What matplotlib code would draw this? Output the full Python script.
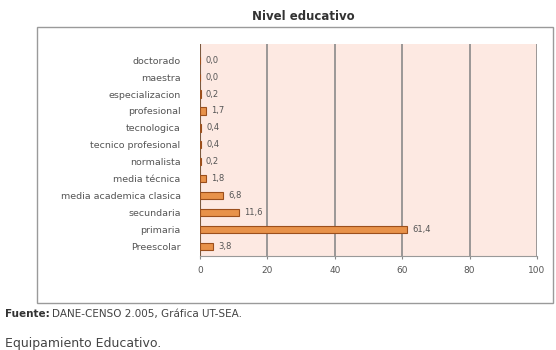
import matplotlib.pyplot as plt
from matplotlib.patches import Rectangle

categorias = ['doctorado', 'maestra', 'especializacion', 'profesional', 'tecnologica',
              'tecnico profesional', 'normalista', 'media técnica', 'media academica clasica',
              'secundaria', 'primaria', 'Preescolar']
valores = [0.0, 0.0, 0.2, 1.7, 0.4, 0.4, 0.2, 1.8, 6.8, 11.6, 61.4, 3.8]
ticks_x = [0, 20, 40, 60, 80, 100]

fig = plt.figure(figsize=(5.56, 3.5), dpi=100)
fig.patch.set_facecolor('white')

# outer chart frame
fig.patches.append(Rectangle((37/556, 1-303/350), 0.995-37/556, (303-27)/350,
                             transform=fig.transFigure, fill=False,
                             edgecolor='#9a9a9a', linewidth=1.0))

ax = fig.add_axes([200/556, 1-256/350, (537-200)/556, (256-44)/350])
ax.set_facecolor('#fde9e2')

pos = list(range(len(categorias)))
ax.barh(pos, valores, height=0.42, color='#e8924a', edgecolor='#9c4f1c', linewidth=0.8, zorder=3)
for p, v in zip(pos, valores):
    ax.text(v + 1.5, p, f'{v:.1f}'.replace('.', ','), va='center', ha='left',
            fontsize=6, color='#555555', zorder=4)

ax.set_xlim(0, 100)
ax.set_ylim(11.55, -0.95)
ax.set_yticks(pos)
ax.set_yticklabels(categorias, fontsize=6.8, color='#555555')
ax.set_xticks(ticks_x)
ax.set_xticklabels([str(t) for t in ticks_x], fontsize=6.5, color='#555555')
ax.tick_params(axis='y', length=0, pad=14)
ax.tick_params(axis='x', length=2, color='#888888', pad=5)
for t in ticks_x[1:]:
    ax.axvline(t, color='#8a8a8a', linewidth=1.2, zorder=1)
for s in ['top', 'right', 'left']:
    ax.spines[s].set_visible(False)
ax.spines['bottom'].set_color('#999999')
ax.plot([0, 0], [11.55, -0.95], color='#7a5a40', linewidth=1.5, zorder=2)

fig.text(0.545, 1-17/350, 'Nivel educativo', ha='center', va='center',
         fontsize=8.5, fontweight='bold', color='#333333')
fig.text(5/556, 1-314/350, 'Fuente:', ha='left', va='center', fontsize=7.5,
         fontweight='bold', color='#333333')
fig.text(52/556, 1-314/350, 'DANE-CENSO 2.005, Gráfica UT-SEA.', ha='left', va='center',
         fontsize=7.5, color='#444444')
fig.text(5/556, 1-343/350, 'Equipamiento Educativo.', ha='left', va='center',
         fontsize=9, color='#444444')

fig.savefig('out.png', dpi=100)
